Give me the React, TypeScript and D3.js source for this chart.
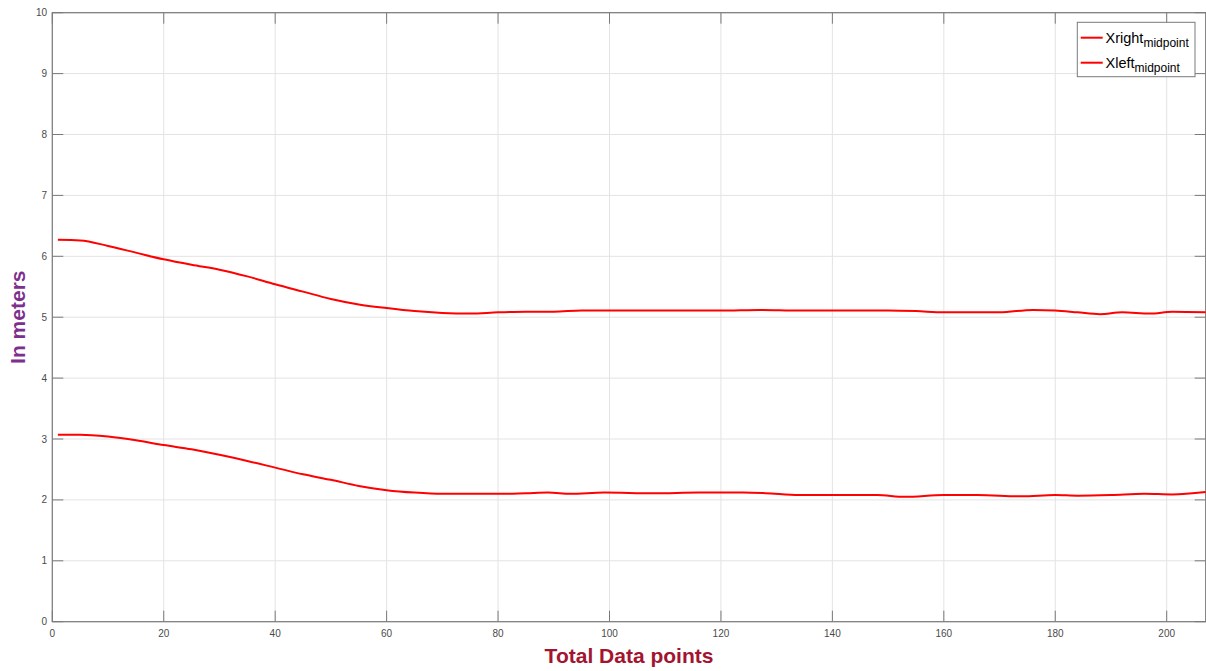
import React from "react";
import * as d3 from "d3";

const xTicks = [0, 20, 40, 60, 80, 100, 120, 140, 160, 180, 200];
const yTicks = [0, 1, 2, 3, 4, 5, 6, 7, 8, 9, 10];

const xRightX = [1, 5, 10, 15, 20, 25, 30, 35, 40, 45, 50, 55, 60, 65, 70, 75, 80, 85, 90, 95, 100, 110, 120, 127, 134, 140, 150, 155, 160, 165, 170, 176, 180, 184, 188, 192, 197, 201, 207];
const xRightY = [6.27, 6.26, 6.17, 6.06, 5.95, 5.86, 5.78, 5.67, 5.54, 5.42, 5.30, 5.21, 5.15, 5.10, 5.07, 5.06, 5.08, 5.09, 5.09, 5.11, 5.11, 5.11, 5.11, 5.12, 5.11, 5.11, 5.11, 5.10, 5.08, 5.08, 5.08, 5.12, 5.11, 5.08, 5.05, 5.08, 5.06, 5.09, 5.08];

const xLeftX = [1, 5, 10, 15, 20, 25, 30, 35, 40, 45, 50, 55, 60, 65, 70, 75, 80, 85, 89, 93, 99, 108, 116, 124, 128, 134, 140, 148, 153, 160, 166, 174, 180, 184, 190, 196, 201, 207];
const xLeftY = [3.07, 3.07, 3.04, 2.98, 2.90, 2.83, 2.74, 2.64, 2.53, 2.42, 2.33, 2.23, 2.16, 2.12, 2.10, 2.10, 2.10, 2.11, 2.12, 2.10, 2.12, 2.11, 2.12, 2.12, 2.11, 2.08, 2.08, 2.08, 2.05, 2.08, 2.08, 2.06, 2.08, 2.07, 2.08, 2.10, 2.09, 2.13];

const W = 1206;
const H = 671;
const L = 52.3, R = 1204, T = 12.7, B = 621.7;
const FONT = "'Liberation Sans', Arial, Helvetica, sans-serif";

export default function App() {
  const x = d3.scaleLinear().domain([0, 207]).range([L, L + 207 * ((1166.7 - 52.3) / 200)]);
  const y = d3.scaleLinear().domain([0, 10]).range([B, T]);
  const right = x(207);
  const line = d3
    .line<[number, number]>()
    .x((d) => x(d[0]))
    .y((d) => y(d[1]))
    .curve(d3.curveMonotoneX);
  const rightPts: [number, number][] = xRightX.map((v, i) => [v, xRightY[i]]);
  const leftPts: [number, number][] = xLeftX.map((v, i) => [v, xLeftY[i]]);
  const tl = 11;
  const axisColor = "#7a7a7a";
  const gridColor = "#e3e3e3";
  const textColor = "#4a4a4a";

  return (
    <svg width={W} height={H} style={{ position: "absolute", left: 0, top: 0, background: "#fff" }} fontFamily={FONT}>
      <rect x={0} y={0} width={W} height={H} fill="#fff" />
      {/* grid */}
      {xTicks.map((t) => (
        <line key={"gx" + t} x1={x(t)} x2={x(t)} y1={T} y2={B} stroke={gridColor} strokeWidth={1} />
      ))}
      {yTicks.map((t) => (
        <line key={"gy" + t} x1={L} x2={right} y1={y(t)} y2={y(t)} stroke={gridColor} strokeWidth={1} />
      ))}
      {/* ticks */}
      {xTicks.map((t) => (
        <g key={"tx" + t}>
          <line x1={x(t)} x2={x(t)} y1={B} y2={B - tl} stroke={axisColor} strokeWidth={1} />
          <line x1={x(t)} x2={x(t)} y1={T} y2={T + tl} stroke={axisColor} strokeWidth={1} />
          <text x={x(t)} y={637} fontSize={10} fill={textColor} textAnchor="middle">{t}</text>
        </g>
      ))}
      {yTicks.map((t) => (
        <g key={"ty" + t}>
          <line x1={L} x2={L + tl} y1={y(t)} y2={y(t)} stroke={axisColor} strokeWidth={1} />
          <line x1={right} x2={right - tl} y1={y(t)} y2={y(t)} stroke={axisColor} strokeWidth={1} />
          <text x={47} y={y(t) + 3.5} fontSize={10} fill={textColor} textAnchor="end">{t}</text>
        </g>
      ))}
      {/* frame */}
      <rect x={L} y={T} width={right - L} height={B - T} fill="none" stroke={axisColor} strokeWidth={1.2} />
      {/* lines */}
      <path d={line(rightPts) || ""} fill="none" stroke="#ff0000" strokeWidth={2} />
      <path d={line(leftPts) || ""} fill="none" stroke="#ff0000" strokeWidth={2} />
      {/* legend */}
      <g>
        <rect x={1077.3} y={22.3} width={117.7} height={54.4} fill="#fff" stroke={axisColor} strokeWidth={1} />
        <line x1={1080.7} x2={1102.7} y1={37.7} y2={37.7} stroke="#ff0000" strokeWidth={2} />
        <line x1={1080.7} x2={1102.7} y1={62.7} y2={62.7} stroke="#ff0000" strokeWidth={2} />
        <text x={1105.5} y={42.5} fontSize={14.5} fill="#000">
          Xright<tspan fontSize={12} dy={4.5}>midpoint</tspan>
        </text>
        <text x={1105.5} y={67.5} fontSize={14.5} fill="#000">
          Xleft<tspan fontSize={12} dy={4.5}>midpoint</tspan>
        </text>
      </g>
      {/* axis titles */}
      <text x={(L + right) / 2} y={663} fontSize={21} fontWeight="bold" fill="#A2142F" textAnchor="middle">
        Total Data points
      </text>
      <text
        transform={`translate(25, ${(T + B) / 2}) rotate(-90)`}
        fontSize={21}
        fontWeight="bold"
        fill="#7E2F8E"
        textAnchor="middle"
      >
        In meters
      </text>
    </svg>
  );
}
